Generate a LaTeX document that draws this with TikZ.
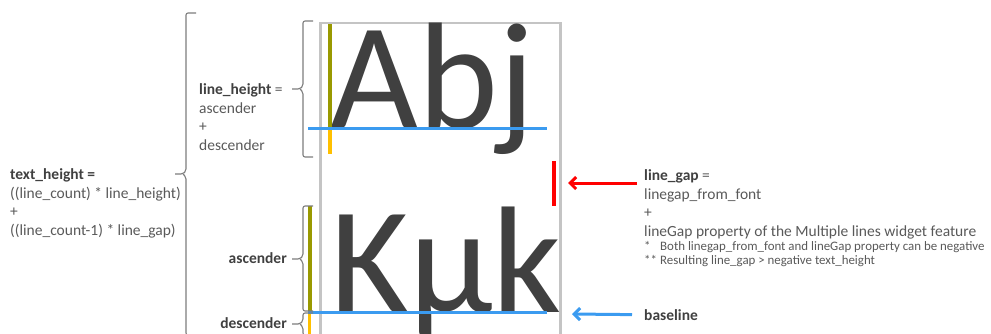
\documentclass[tikz,border=0pt]{standalone}
\usepackage{fontspec}
\setmainfont{Carlito}
\usepackage{xcolor}
\usepackage{tikz}
\usetikzlibrary{arrows.meta}
\definecolor{lhdark}{RGB}{64,64,64}
\definecolor{lhtext}{RGB}{89,89,89}
\definecolor{lhbox}{RGB}{196,196,196}
\definecolor{lhbrace}{RGB}{125,125,125}
\definecolor{lholive}{RGB}{153,153,0}
\definecolor{lhamber}{RGB}{255,192,0}
\definecolor{lhblue}{RGB}{59,155,240}
\definecolor{lhred}{RGB}{255,0,0}
\newcommand{\lhbig}{\fontsize{152}{152}\selectfont}
\newcommand{\lhmain}{\fontsize{15.5}{18.7}\selectfont}
\newcommand{\lhnote}{\fontsize{12.9}{14}\selectfont}
\newcommand{\lhhead}[1]{{\bfseries\color{lhdark}#1}}

\begin{document}
\begin{tikzpicture}[x=1pt, y=-1pt,
  lbltext/.style={font=\lhmain, text=lhtext, inner sep=0pt, align=left},
  curly/.style={draw=lhbrace, line width=1.1pt, rounded corners=2pt},
  pointer/.style={line width=3pt, -{Straight Barb[length=6pt,width=12pt]}}]
\useasboundingbox (0,0) rectangle (991,333);
\clip (0,0) rectangle (991,333);

% ================= sample text box =================
% The box runs on past the lower edge, like the second line of glyphs.
\draw[lhbox, line width=2.5pt] (320.5,345) |- (560.5,23) -- (560.5,345);
\node[font=\lhbig, text=lhdark, inner sep=0pt, anchor=base west] (abj) at (330,128.5) {Abj};
\node[font=\lhbig, text=lhdark, inner sep=0pt, anchor=base west] (kmk) at (330,312.5) {Kμk};

% ascender / descender bars and baselines
\draw[lholive, line width=4pt] (330,24) -- (330,128.5);
\draw[lhamber, line width=3.5pt] (330,128.5) -- (330,154);
\draw[lholive, line width=4pt] (309.7,206) -- (309.7,312.5);
\draw[lhamber, line width=3.5pt] (309.7,312.5) -- (309.7,340);
\foreach \by in {128.5,312.5}
  \draw[lhblue, line width=3.3pt] (308,\by) -- (547,\by);
% gap between the two lines
\draw[lhred, line width=3.5pt] (554,161) -- (554,206);

% ================= braces =================
% x of the spine / top / tip / bottom
\foreach \bx/\bt/\bm/\bb in {186/13/174/335, 303/21/89/157,
                            303/206/259/311, 303/313/324/335} {
  \draw[curly] (\bx-11,\bm) -- (\bx-3,\bm) -- (\bx,\bm-3) -- (\bx,\bt) -- (\bx+10,\bt);
  \draw[curly] (\bx-3,\bm) -- (\bx,\bm+3) -- (\bx,\bb) -- (\bx+10,\bb);
}

% ================= labels =================
\node[lbltext, anchor=north west] (textheight) at (10,168.3)
  {\lhhead{text\_height =}\\((line\_count) * line\_height)\\+\\((line\_count-1) * line\_gap)};
\node[lbltext, anchor=north west] (lineheight) at (199,83.3)
  {\lhhead{line\_height} =\\ascender\\+\\descender};
\node[lbltext, anchor=base east] (asc) at (287,263) {\lhhead{ascender}};
\node[lbltext, anchor=base east] (desc) at (287,328) {\lhhead{descender}};

\node[lbltext, anchor=north west] (linegap) at (644,169.3)
  {\lhhead{line\_gap} =\\linegap\_from\_font\\+\\lineGap property of the Multiple lines widget feature};
\node[lbltext, font=\lhnote, anchor=north west] (notes) at (644,241.6)
  {\makebox[16pt][l]{*}Both linegap\_from\_font and lineGap property can be negative\\
   \makebox[16pt][l]{**}Resulting line\_gap > negative text\_height};
\node[lbltext, anchor=base west] (base) at (644,320) {\lhhead{baseline}};

% ================= pointers =================
\coordinate (gaptail) at (637,183);
\coordinate (gaptip) at (568,183);
\coordinate (basetip) at (572,314);
\draw[pointer, lhred] (gaptail) -- (gaptip);
\draw[pointer, lhblue] ([xshift=-12pt]base.west) -- (basetip);
\end{tikzpicture}
\end{document}
